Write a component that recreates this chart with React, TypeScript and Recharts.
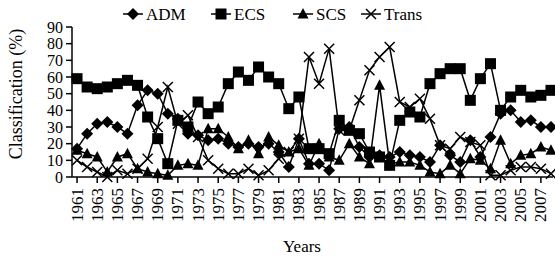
import { LineChart, Line, XAxis, YAxis } from "recharts";

const FONT = '"Liberation Serif", "Times New Roman", serif';

const years = [
  1961, 1962, 1963, 1964, 1965, 1966, 1967, 1968, 1969, 1970, 1971, 1972,
  1973, 1974, 1975, 1976, 1977, 1978, 1979, 1980, 1981, 1982, 1983, 1984,
  1985, 1986, 1987, 1988, 1989, 1990, 1991, 1992, 1993, 1994, 1995, 1996,
  1997, 1998, 1999, 2000, 2001, 2002, 2003, 2004, 2005, 2006, 2007, 2008,
];

const adm = [
  17, 26, 32, 33, 30, 26, 43, 52, 50, 38, 35, 26, 25, 22, 23, 20,
  18, 20, 18, 20, 15, 6, 23, 8, 8, 4, 29, 30, 18, 12, 13, 12,
  15, 13, 12, 9, 19, 13, 9, 22, 12, 24, 38, 40, 33, 34, 30, 30,
];
const ecs = [
  59, 54, 53, 54, 56, 58, 55, 36, 23, 8, 34, 30, 45, 38, 42, 56,
  63, 58, 66, 60, 56, 41, 48, 17, 17, 14, 34, 28, 26, 15, 12, 7,
  34, 39, 36, 56, 62, 65, 65, 46, 59, 68, 40, 48, 52, 48, 49, 52,
];
const scs = [
  16, 14, 12, 3, 12, 14, 5, 3, 2, 1, 7, 8, 7, 29, 29, 24,
  17, 22, 14, 24, 19, 15, 17, 7, 20, 12, 10, 20, 12, 8, 55, 8,
  9, 9, 7, 3, 2, 7, 2, 11, 10, 5, 22, 8, 13, 14, 18, 16,
];
const trans = [
  10, 6, 3, 0, 4, 2, 5, 11, 30, 54, 32, 37, 24, 10, 5, 2,
  2, 5, 1, 4, 11, 15, 23, 72, 56, 77, 28, 28, 46, 64, 72, 78,
  45, 42, 47, 35, 19, 17, 24, 21, 19, 1, 1, 4, 6, 6, 5, 2,
];

const yTicks = [0, 10, 20, 30, 40, 50, 60, 70, 80, 90];
const xTicks = [
  1961, 1963, 1965, 1967, 1969, 1971, 1973, 1975, 1977, 1979, 1981, 1983,
  1985, 1987, 1989, 1991, 1993, 1995, 1997, 1999, 2001, 2003, 2005, 2007,
];

const data = years.map((year, i) => ({
  year,
  ADM: adm[i],
  ECS: ecs[i],
  SCS: scs[i],
  Trans: trans[i],
}));

type Shape = "diamond" | "square" | "triangle" | "cross";

function marker(shape: Shape, cx: number, cy: number, key?: string) {
  if (shape === "diamond")
    return (
      <path key={key} d={`M${cx},${cy - 6}L${cx + 6},${cy}L${cx},${cy + 6}L${cx - 6},${cy}Z`} fill="#000" />
    );
  if (shape === "square")
    return <rect key={key} x={cx - 5.5} y={cy - 5.5} width={11} height={11} fill="#000" />;
  if (shape === "triangle")
    return (
      <path key={key} d={`M${cx},${cy - 6}L${cx + 5.5},${cy + 4.5}L${cx - 5.5},${cy + 4.5}Z`} fill="#000" />
    );
  return (
    <path
      key={key}
      d={`M${cx - 5},${cy - 5}L${cx + 5},${cy + 5}M${cx - 5},${cy + 5}L${cx + 5},${cy - 5}`}
      stroke="#000"
      strokeWidth={1.5}
      fill="none"
    />
  );
}

const dotFor = (shape: Shape, name: string) => (props: any) =>
  marker(shape, props.cx, props.cy, `${name}-${props.index}`);

const YearTick = (props: any) => {
  const { x, y, payload } = props;
  return (
    <g transform={`translate(${x},${y + 3})`}>
      <text
        transform="rotate(-90)"
        textAnchor="end"
        dominantBaseline="central"
        fontFamily={FONT}
        fontSize={17}
        fill="#000"
      >
        {payload.value}
      </text>
    </g>
  );
};

const series: Array<{ key: string; shape: Shape }> = [
  { key: "ADM", shape: "diamond" },
  { key: "ECS", shape: "square" },
  { key: "SCS", shape: "triangle" },
  { key: "Trans", shape: "cross" },
];

const legendPos = [133, 221, 303, 371];

export default function App() {
  return (
    <div style={{ position: "absolute", left: 0, top: 0, width: 555, height: 258, background: "#fff" }}>
      <LineChart
        width={555}
        height={258}
        data={data}
        margin={{ top: 27, right: 2, bottom: 0, left: 0 }}
      >
        <XAxis
          dataKey="year"
          type="number"
          domain={[1960.5, 2008.2]}
          ticks={xTicks}
          interval={0}
          height={81}
          stroke="#000"
          strokeWidth={1.5}
          tickSize={6}
          tick={<YearTick />}
          label={{
            value: "Years",
            content: () => (
              <text x={302} y={252} textAnchor="middle" fontFamily={FONT} fontSize={17} fill="#000">
                Years
              </text>
            ),
          }}
        />
        <YAxis
          domain={[0, 90]}
          ticks={yTicks}
          interval={0}
          width={72}
          stroke="#000"
          strokeWidth={1.5}
          tickSize={6}
          tickMargin={3}
          tick={{ fontFamily: FONT, fontSize: 16, fill: "#000" }}
          label={{
            value: "Classification (%)",
            content: () => (
              <text
                transform="translate(16,94) rotate(-90)"
                textAnchor="middle"
                dominantBaseline="central"
                fontFamily={FONT}
                fontSize={18}
                fill="#000"
              >
                Classification (%)
              </text>
            ),
          }}
        />
        {series.map((s) => (
          <Line
            key={s.key}
            dataKey={s.key}
            stroke="#000"
            strokeWidth={1.5}
            dot={dotFor(s.shape, s.key)}
            activeDot={false}
            isAnimationActive={false}
          />
        ))}
      </LineChart>
      <svg width={555} height={28} style={{ position: "absolute", left: 0, top: 0 }}>
        {series.map((s, i) => {
          const cx = legendPos[i];
          return (
            <g key={s.key}>
              <line x1={cx - 10} x2={cx + 10} y1={14} y2={14} stroke="#000" strokeWidth={1.5} />
              {marker(s.shape, cx, 14)}
              <text x={cx + 13} y={14} dominantBaseline="central" fontFamily={FONT} fontSize={17} fill="#000">
                {s.key}
              </text>
            </g>
          );
        })}
      </svg>
    </div>
  );
}
